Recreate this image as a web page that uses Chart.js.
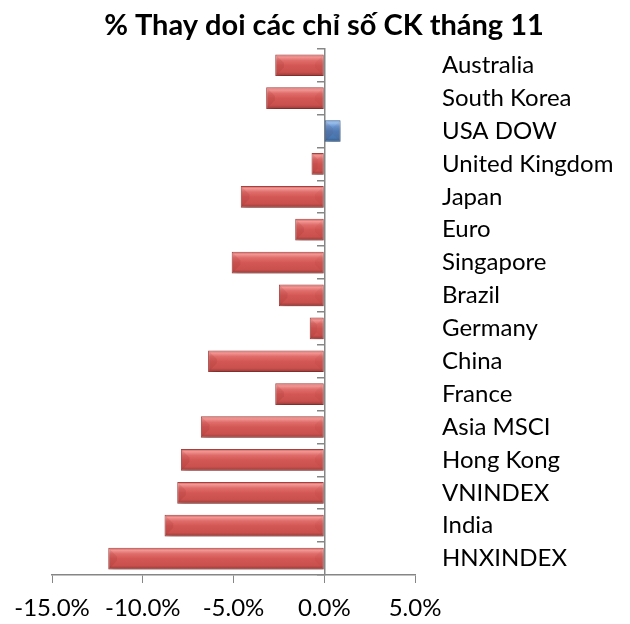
<!DOCTYPE html>
<html>
<head>
<meta charset="utf-8">
<script src="https://cdn.jsdelivr.net/npm/chart.js@4"></script>
<style>
    body { margin: 0; background: #ffffff; }
    #wrap { width: 630px; height: 624px; }
</style>
</head>
<body>
<div id="wrap"><canvas id="chgChart"></canvas></div>
<script>
// Dados do gráfico
const markets = ['Australia', 'South Korea', 'USA DOW', 'United Kingdom', 'Japan', 'Euro',
    'Singapore', 'Brazil', 'Germany', 'China', 'France', 'Asia MSCI', 'Hong Kong',
    'VNINDEX', 'India', 'HNXINDEX'];
const changePct = [-2.7, -3.2, 0.9, -0.7, -4.6, -1.6, -5.1, -2.5, -0.8, -6.4, -2.7, -6.8,
    -7.9, -8.1, -8.8, -11.9];
const axisTicks = [-15, -10, -5, 0, 5];
const chartTitle = '% Thay doi các chỉ số CK tháng 11';

const FONT = 'Lato, "Open Sans", sans-serif';
const AXIS_GREY = '#868686';
const BAR_PCT = 0.66;

// gradiente vertical para cada barra (efeito bevel)
function barFill(ctx) {
    const chart = ctx.chart;
    const positive = ctx.raw > 0;
    const flat = positive ? '#4f81bd' : '#d35d5a';
    const yScale = chart.scales.y;
    if (!yScale || ctx.type !== 'data') return flat;
    const center = yScale.getPixelForValue(ctx.dataIndex);
    const h = yScale.height / markets.length * BAR_PCT / 2;
    if (!isFinite(center) || !isFinite(h) || h <= 0) return flat;
    const g = chart.ctx.createLinearGradient(0, center - h, 0, center + h);
    if (positive) {
        g.addColorStop(0, '#5b8ccb');
        g.addColorStop(0.12, '#9cc0ea');
        g.addColorStop(0.28, '#6a9ad6');
        g.addColorStop(0.5, '#4f81bd');
        g.addColorStop(0.82, '#4877b0');
        g.addColorStop(1, '#2f5688');
    } else {
        g.addColorStop(0, '#d25e5b');
        g.addColorStop(0.12, '#f19794');
        g.addColorStop(0.28, '#e06d6a');
        g.addColorStop(0.5, '#d35855');
        g.addColorStop(0.82, '#c9504d');
        g.addColorStop(1, '#973936');
    }
    return g;
}

// sombra e chanfro nas pontas das barras
const bevelPlugin = {
    id: 'barBevel',
    beforeDatasetsDraw(chart) {
        const c = chart.ctx;
        c.save();
        c.shadowColor = 'rgba(0, 0, 0, 0.3)';
        c.shadowBlur = 6;
        c.shadowOffsetX = 2;
        c.shadowOffsetY = 4;
    },
    afterDatasetsDraw(chart) {
        const c = chart.ctx;
        c.restore();
        const meta = chart.getDatasetMeta(0);
        meta.data.forEach(bar => {
            const p = bar.getProps(['x', 'y', 'base', 'height'], true);
            const left = Math.min(p.x, p.base);
            const right = Math.max(p.x, p.base);
            const top = p.y - p.height / 2;
            const bottom = p.y + p.height / 2;
            const b = Math.min(p.height * 0.4, (right - left) / 2);
            c.save();
            // ponta esquerda
            c.beginPath();
            c.moveTo(left + 1, top + 1);
            c.lineTo(left + b, top + b);
            c.lineTo(left + b, bottom - b);
            c.lineTo(left + 1, bottom - 1);
            c.closePath();
            c.fillStyle = 'rgba(110, 20, 20, 0.10)';
            c.fill();
            // ponta direita
            c.beginPath();
            c.moveTo(right - 1, top + 1);
            c.lineTo(right - b, top + b);
            c.lineTo(right - b, bottom - b);
            c.lineTo(right - 1, bottom - 1);
            c.closePath();
            c.fillStyle = 'rgba(110, 20, 20, 0.05)';
            c.fill();
            c.restore();
        });
    }
};

new Chart(document.getElementById('chgChart').getContext('2d'), {
    type: 'bar',
    data: {
        labels: markets,
        datasets: [{
            label: chartTitle,
            data: changePct,
            backgroundColor: barFill,
            borderColor: ctx => ctx.raw > 0 ? '#3a6598' : '#a8423f',
            borderWidth: 1,
            borderSkipped: false,
            categoryPercentage: 1.0,
            barPercentage: BAR_PCT,
            yAxisID: 'y'
        }]
    },
    options: {
        indexAxis: 'y',
        responsive: true,
        maintainAspectRatio: false,
        animation: false,
        layout: { padding: { left: 18, right: 0, top: 0, bottom: 0 } },
        plugins: {
            legend: { display: false },
            tooltip: { enabled: false },
            title: {
                display: true,
                text: chartTitle,
                color: '#000000',
                font: { family: FONT, size: 29, weight: 'bold' },
                padding: { top: 8, bottom: 6 }
            }
        },
        scales: {
            x: {
                min: -15,
                max: 5,
                afterBuildTicks: scale => {
                    scale.ticks = axisTicks.map(v => ({ value: v }));
                },
                afterFit: scale => {
                    scale.height = 49;
                    scale.paddingLeft = 52;
                },
                ticks: {
                    color: '#000000',
                    font: { family: FONT, size: 24 },
                    padding: 11,
                    maxRotation: 0,
                    callback: v => Number(v).toFixed(1) + '%'
                },
                grid: { drawOnChartArea: false, color: AXIS_GREY, tickLength: 8 },
                border: { color: AXIS_GREY, width: 1.5 }
            },
            y: {
                type: 'category',
                position: 'right',
                offset: true,
                afterFit: scale => {
                    scale.width = 215;
                    scale.paddingTop = 0;
                    scale.paddingBottom = 0;
                },
                ticks: {
                    color: '#000000',
                    font: { family: FONT, size: 24 },
                    padding: 27,
                    autoSkip: false
                },
                grid: { display: false, drawTicks: false },
                border: { display: false }
            },
            y0: {
                type: 'category',
                position: { x: 0 },
                offset: true,
                ticks: { display: false },
                grid: { drawOnChartArea: false, offset: true, color: AXIS_GREY, tickLength: 7, lineWidth: 1.5 },
                border: { color: AXIS_GREY, width: 1.5 }
            }
        }
    },
    plugins: [bevelPlugin]
});
</script>
</body>
</html>
